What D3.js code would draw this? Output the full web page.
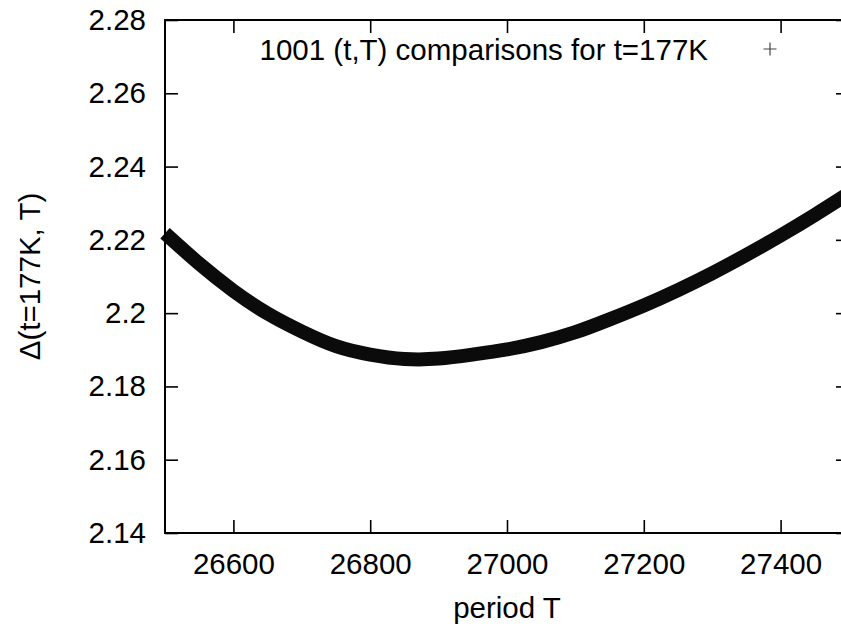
<!DOCTYPE html>
<html>
<head>
<meta charset="utf-8">
<script src="https://cdn.jsdelivr.net/npm/d3@7"></script>
<style>
  html, body { margin: 0; padding: 0; background: #fff; }
  svg { display: block; font-family: "Liberation Sans", Arial, Helvetica, sans-serif; }
</style>
</head>
<body>
<svg id="chart" width="841" height="628"></svg>
<script>
// Period T scanned for t = 177K
const periods = [26500, 26550, 26600, 26650, 26700, 26750, 26800, 26850, 26900, 26950,
                 27000, 27050, 27100, 27150, 27200, 27250, 27300, 27350, 27400, 27450, 27500];
// Delta(t=177K, T) along the scan
const delta = [2.2218, 2.2135, 2.2061, 2.1999, 2.1950, 2.1910, 2.1887, 2.1875, 2.1876, 2.1887,
               2.1901, 2.1921, 2.1948, 2.1983, 2.2021, 2.2063, 2.2109, 2.2159, 2.2212, 2.2268, 2.2327];

const xTicks = [26600, 26800, 27000, 27200, 27400];
const yTicks = [2.14, 2.16, 2.18, 2.2, 2.22, 2.24, 2.26, 2.28];
const legendText = "1001 (t,T) comparisons for t=177K";
const xTitle = "period T";
const yTitle = "\u0394(t=177K, T)";

const svg = d3.select("#chart");
const plotLeft = 165, plotRight = 849, plotTop = 20, plotBottom = 533;
const fontSize = 29.5;

const x = d3.scaleLinear().domain([26500, 27500]).range([plotLeft, plotRight]);
const y = d3.scaleLinear().domain([2.14, 2.28]).range([plotBottom, plotTop]);

const fmt = d => String(+d.toFixed(2));
const tickLen = 13;

function styleAxis(g) {
  g.select(".domain").remove();
  g.selectAll(".tick line").attr("stroke", "#000").attr("stroke-width", 1.6);
  g.selectAll(".tick text").attr("fill", "#000").style("font-size", fontSize + "px")
    .style("font-family", "'Liberation Sans', Arial, sans-serif");
}

// bottom axis (labels + inward ticks)
svg.append("g").attr("transform", `translate(0,${plotBottom})`)
  .call(d3.axisBottom(x).tickValues(xTicks).tickFormat(d => d).tickSizeInner(-tickLen).tickPadding(20))
  .call(styleAxis)
  .selectAll(".tick text").attr("dy", "0.71em").attr("y", 20);

// top mirror ticks
svg.append("g").attr("transform", `translate(0,${plotTop})`)
  .call(d3.axisTop(x).tickValues(xTicks).tickFormat("").tickSizeInner(-tickLen))
  .call(styleAxis);

// left axis
svg.append("g").attr("transform", `translate(${plotLeft},0)`)
  .call(d3.axisLeft(y).tickValues(yTicks).tickFormat(fmt).tickSizeInner(-tickLen).tickPadding(19))
  .call(styleAxis);

// right mirror ticks
svg.append("g").attr("transform", `translate(${plotRight},0)`)
  .call(d3.axisRight(y).tickValues(yTicks).tickFormat("").tickSizeInner(-tickLen))
  .call(styleAxis);

// data band: the dense run of '+' points merges into one thick curve
const line = d3.line().x((d, i) => x(periods[i])).y(d => y(d)).curve(d3.curveNatural);
svg.append("path")
  .datum(delta)
  .attr("d", line)
  .attr("fill", "none")
  .attr("stroke", "#0b0b0b")
  .attr("stroke-width", 14);

// plot frame
svg.append("rect")
  .attr("x", plotLeft).attr("y", plotTop)
  .attr("width", plotRight - plotLeft).attr("height", plotBottom - plotTop)
  .attr("fill", "none").attr("stroke", "#000").attr("stroke-width", 2);

// legend
svg.append("text")
  .attr("x", 708).attr("y", 49)
  .attr("text-anchor", "end").attr("dominant-baseline", "central")
  .style("font-size", fontSize + "px")
  .text(legendText);
const lx = 770, ly = 49, ls = 6.5;
svg.append("path")
  .attr("d", `M${lx - ls},${ly}H${lx + ls}M${lx},${ly - ls}V${ly + ls}`)
  .attr("stroke", "#444").attr("stroke-width", 1.2).attr("fill", "none");

// axis titles
svg.append("text")
  .attr("x", 507).attr("y", 607)
  .attr("text-anchor", "middle").attr("dominant-baseline", "central")
  .style("font-size", fontSize + "px")
  .text(xTitle);
svg.append("text")
  .attr("transform", `translate(29,${(plotTop + plotBottom) / 2}) rotate(-90)`)
  .attr("text-anchor", "middle").attr("dominant-baseline", "central")
  .style("font-size", fontSize + "px")
  .text(yTitle);
</script>
</body>
</html>
